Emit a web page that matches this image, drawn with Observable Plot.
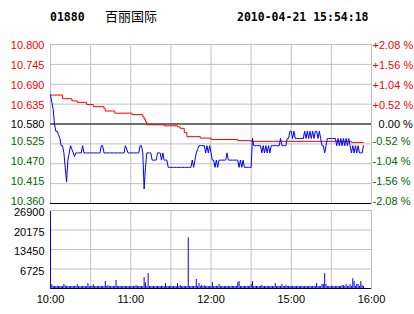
<!DOCTYPE html>
<html>
<head>
<meta charset="utf-8">
<script src="https://cdn.jsdelivr.net/npm/d3@7"></script>
<script src="https://cdn.jsdelivr.net/npm/@observablehq/plot@0.6"></script>
<style>
  html, body { margin: 0; padding: 0; background: #fff; }
  #root { position: relative; width: 414px; height: 314px; overflow: hidden; background: #fff; }
  .hdr { position: absolute; top: 10px; line-height: 14px; white-space: pre; color: #000; }
  .mono { font-family: "DejaVu Sans Mono", monospace; font-weight: bold; font-size: 11.5px; }
  .cjk { font-family: "Noto Sans CJK SC", sans-serif; font-size: 13px; }
  #price, #vol { position: absolute; left: 0; }
  #price { top: 34px; }
  #vol { top: 200px; }
</style>
</head>
<body>
<div id="root">
  <div class="hdr mono" style="left:50px">01880</div>
  <div class="hdr cjk" style="left:105px;top:9px">百丽国际</div>
  <div class="hdr mono" style="left:237px">2010-04-21 15:54:18</div>
  <div id="price"></div>
  <div id="vol"></div>
</div>
<script>
// ---- data ----
const prevClose = 10.58;
const priceMin = 10.36;
const priceMax = 10.80;
const priceTicks = [10.36, 10.415, 10.47, 10.525, 10.58, 10.635, 10.69, 10.745, 10.80];
const timeGrid = [0, 30, 60, 90, 120, 150, 180, 210, 240];
const timeTicks = [0, 60, 120, 180, 240];
const timeLabels = ["10:00", "11:00", "12:00", "15:00", "16:00"];
const volTicks = [6725, 13450, 20175, 26900];
const volMax = 26900;

// last price, one value per minute (10:00 ... 15:54, lunch removed)
const prices = [
  10.66,10.64,10.62,10.58,10.56,10.56,10.55,10.54,10.52,10.52,
  10.50,10.46,10.42,10.48,10.50,10.52,10.51,10.50,10.49,10.50,
  10.50,10.50,10.50,10.50,10.52,10.50,10.50,10.50,10.50,10.50,
  10.50,10.50,10.50,10.50,10.50,10.50,10.50,10.50,10.52,10.52,
  10.50,10.50,10.50,10.50,10.50,10.50,10.50,10.50,10.50,10.50,
  10.50,10.50,10.50,10.50,10.50,10.50,10.52,10.51,10.50,10.50,
  10.50,10.50,10.50,10.50,10.50,10.50,10.50,10.52,10.52,10.50,
  10.40,10.46,10.50,10.50,10.50,10.50,10.48,10.48,10.48,10.48,
  10.50,10.50,10.50,10.48,10.50,10.48,10.48,10.48,10.46,10.46,
  10.46,10.46,10.46,10.46,10.46,10.46,10.46,10.46,10.46,10.46,
  10.46,10.46,10.46,10.46,10.46,10.46,10.48,10.46,10.48,10.50,
  10.51,10.52,10.52,10.52,10.52,10.52,10.50,10.52,10.50,10.52,
  10.50,10.48,10.48,10.46,10.48,10.46,10.48,10.48,10.48,10.48,
  10.48,10.48,10.50,10.48,10.48,10.48,10.48,10.48,10.48,10.48,
  10.48,10.46,10.48,10.46,10.48,10.46,10.46,10.46,10.46,10.46,
  10.46,10.54,10.52,10.52,10.52,10.52,10.52,10.52,10.50,10.52,
  10.50,10.52,10.50,10.52,10.50,10.52,10.52,10.52,10.52,10.52,
  10.52,10.52,10.54,10.52,10.52,10.52,10.52,10.54,10.54,10.56,
  10.56,10.54,10.56,10.54,10.54,10.54,10.54,10.54,10.54,10.54,
  10.56,10.54,10.56,10.54,10.56,10.54,10.56,10.54,10.56,10.56,
  10.54,10.56,10.54,10.52,10.52,10.50,10.52,10.54,10.54,10.54,
  10.54,10.54,10.54,10.54,10.52,10.54,10.52,10.54,10.52,10.54,
  10.52,10.54,10.52,10.54,10.52,10.50,10.52,10.50,10.52,10.50,
  10.52,10.50,10.50,10.50,10.52
];

// average price (step changes)
const avgMinutes = [0, 9, 16, 20, 27, 32, 40, 41, 48, 61, 69, 70, 71, 72, 85, 95, 97, 100, 102, 112, 120, 140, 150, 225, 234];
const avgValues  = [10.660, 10.650, 10.644, 10.640, 10.634, 10.628, 10.622, 10.616, 10.610, 10.606, 10.600, 10.593, 10.586, 10.578, 10.575, 10.572, 10.568, 10.556, 10.545, 10.541, 10.537, 10.534, 10.532, 10.529, 10.529];

// volume per minute
const volumes = [
  26500,1250,700,650,700,720,680,700,660,700,
  1400,900,700,680,700,650,700,720,700,680,
  1300,700,660,700,700,680,720,700,1700,700,
  680,700,1300,700,650,700,720,680,700,700,
  700,2400,700,1000,680,700,660,700,720,2750,
  700,680,700,700,650,720,700,680,700,700,
  660,700,720,700,1000,700,680,700,700,650,
  3800,1950,700,5150,700,680,720,700,660,700,
  700,680,700,720,700,650,1700,700,680,700,
  700,720,660,700,680,1700,700,1000,700,650,
  700,720,680,17500,700,660,700,700,680,3100,
  700,1700,720,1000,680,900,700,700,650,700,
  700,2050,680,700,720,700,1400,700,660,700,
  680,700,720,700,650,700,700,680,720,700,
  2000,2400,700,680,700,660,700,720,700,680,
  1400,2400,700,680,700,720,650,700,1000,700,
  680,700,720,700,660,700,700,680,1700,700,
  700,720,680,1400,700,650,1000,700,720,700,
  680,700,700,660,720,700,680,700,700,650,
  700,720,680,700,700,660,700,720,680,1700,
  700,680,700,1400,1400,5150,1400,700,660,700,
  720,700,680,700,650,700,700,720,1000,1000,
  700,1400,680,700,1400,700,3400,2400,700,1400,
  1400,700,2400,1000,700
];

// ---- colours ----
const UP = "#ff0000", DOWN = "#006600", GRID = "#c0c0c0";
const upTicks = priceTicks.filter(d => d > prevClose + 1e-9);
const dnTicks = priceTicks.filter(d => d < prevClose - 1e-9);
const zeroTicks = [prevClose];
const pctFmt = d => {
  const p = (d - prevClose) / prevClose * 100;
  const s = Math.abs(p) < 1e-9 ? "\u00a0\u00a0" : (p > 0 ? "+" : "-");
  return s + Math.abs(p).toFixed(2) + " %";
};
const avgData = avgMinutes.map((m, i) => ({m, v: avgValues[i]}));
const font = {background: "transparent", fontFamily: "'Liberation Sans', Arial, sans-serif", fontSize: "11px", overflow: "visible"};
const ax = (ticks, anchor, fill, fmt, dy) =>
  Plot.axisY(ticks, {anchor, tickSize: 0, tickPadding: anchor === "left" ? 6 : 1, fill, tickFormat: fmt, label: null, dy});
const f3 = d => d.toFixed(3);

const priceChart = Plot.plot({
  width: 414, height: 173,
  marginTop: 10, marginBottom: 4, marginLeft: 50, marginRight: 43,
  style: font,
  x: {domain: [0, 240], axis: null},
  y: {domain: [priceMin, priceMax]},
  marks: [
    Plot.gridX(timeGrid, {stroke: GRID, strokeOpacity: 1}),
    Plot.gridY(priceTicks, {stroke: GRID, strokeOpacity: 1}),
    Plot.frame({stroke: GRID}),
    Plot.ruleY([prevClose, priceMin], {stroke: "#000"}),
    Plot.line(avgData, {x: "m", y: "v", curve: "step-after", stroke: "#ff0000", strokeWidth: 1}),
    Plot.line(prices, {x: (d, i) => i, y: d => d, stroke: "#0000ff", strokeWidth: 1}),
    ax(upTicks, "left", UP, f3, 1),
    ax(zeroTicks, "left", "#000", f3, 0),
    ax(dnTicks, "left", DOWN, f3, -2),
    ax(upTicks, "right", UP, pctFmt, 1),
    ax(zeroTicks, "right", "#000", pctFmt, 0),
    ax(dnTicks, "right", DOWN, pctFmt, -2)
  ]
});
document.getElementById("price").appendChild(priceChart);

const volChart = Plot.plot({
  width: 414, height: 114,
  marginTop: 10, marginBottom: 26, marginLeft: 50, marginRight: 43,
  style: font,
  x: {domain: [0, 240]},
  y: {domain: [0, volMax]},
  marks: [
    Plot.gridX(timeGrid, {stroke: GRID, strokeOpacity: 1}),
    Plot.gridY(volTicks, {stroke: GRID, strokeOpacity: 1}),
    Plot.frame({stroke: GRID}),
    Plot.ruleX(volumes, {x: (d, i) => i, y1: 0, y2: d => d, stroke: "#0000ff", strokeWidth: 1}),
    Plot.ruleY([0], {stroke: "#000"}),
    Plot.axisY(volTicks, {anchor: "left", tickSize: 0, tickPadding: 6, fill: "#000", tickFormat: d => String(d), label: null, dy: 2}),
    Plot.axisX(timeTicks, {anchor: "bottom", tickSize: 0, tickPadding: 7, fill: "#000", tickFormat: (d, i) => timeLabels[i], label: null})
  ]
});
document.getElementById("vol").appendChild(volChart);
</script>
</body>
</html>
